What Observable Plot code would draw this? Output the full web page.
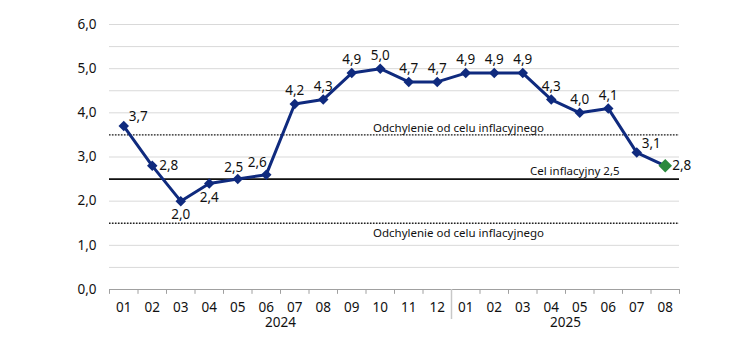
<!DOCTYPE html>
<html><head><meta charset="utf-8">
<script src="https://cdn.jsdelivr.net/npm/d3@7"></script>
<script src="https://cdn.jsdelivr.net/npm/@observablehq/plot@0.6"></script>
<style>body{margin:0;background:#fff;}</style>
</head><body><div id="chart"></div>
<script>
const months = ["01","02","03","04","05","06","07","08","09","10","11","12","01","02","03","04","05","06","07","08"];
const years = ["2024","2025"];
const yearMonthCounts = [12, 8];
const values = [3.7,2.8,2.0,2.4,2.5,2.6,4.2,4.3,4.9,5.0,4.7,4.7,4.9,4.9,4.9,4.3,4.0,4.1,3.1,2.8];
const target = 2.5;
const bandLow = 1.5, bandHigh = 3.5;
const targetLabel = "Cel inflacyjny 2,5";
const bandLabel = "Odchylenie od celu inflacyjnego";
const yTicks = [0,1,2,3,4,5,6];
const gridValues = [0.5,1,1.5,2,2.5,3,3.5,4,4.5,5,5.5,6];

const NAVY = "#0f2a7e", GREEN = "#2b8a3e", FONT = "'Noto Sans', sans-serif", INK = "#111";
const fmt = d => d.toFixed(1).replace(".", ",");
const n = values.length;
const idx = values.map((d,i)=>i);
const boundaries = d3.range(n+1).map(i => i - 0.5);
// label placement per point
const place = ["ur","r","b","b","ul","ul2","a","a","a","a","a","a","a","a","a","a","a","a","ur","r"];
const off = {a:{dx:0,dy:-13,ta:"middle"}, ur:{dx:5,dy:-9,ta:"start"}, r:{dx:7,dy:0,ta:"start"},
             b:{dx:0,dy:14,ta:"middle"}, ul:{dx:-4,dy:-11,ta:"middle"}, ul2:{dx:-9,dy:-12,ta:"middle"}};
let start = 0;
const yearCenters = yearMonthCounts.map(c => { const m = start + (c-1)/2; start += c; return m; });
const separators = yearMonthCounts.slice(0,-1).map((c,k)=> d3.sum(yearMonthCounts.slice(0,k+1)) - 0.5);

const labelMarks = Object.keys(off).map(k => Plot.text(idx.filter(i => place[i]===k), {
  x: i => i, y: i => values[i], text: i => fmt(values[i]),
  dx: off[k].dx, dy: off[k].dy, textAnchor: off[k].ta, fontSize: 13.5, fill: INK
}));

const chart = Plot.plot({
  width: 750, height: 346,
  marginLeft: 109, marginRight: 71, marginTop: 24, marginBottom: 57,
  style: {fontFamily: FONT, fontSize: "13px", color: INK, background: "#fff"},
  x: {domain: [-0.5, n - 0.5], axis: null},
  y: {domain: [0, 6]},
  marks: [
    Plot.ruleY(gridValues, {stroke: "#d9d9d9", strokeWidth: 1}),
    Plot.axisY({ticks: yTicks, tickFormat: fmt, tickSize: 0, tickPadding: 13, fontSize: 13.5, fill: INK, label: null}),
    Plot.ruleY([0], {stroke: "#a0a0a0", strokeWidth: 1}),
    Plot.ruleX(boundaries, {y1: 0, y2: -0.11, stroke: "#a0a0a0"}),
    Plot.ruleX(separators, {y1: 0, y2: -0.68, stroke: "#c8c8c8", strokeWidth: 1.5}),
    Plot.text(months, {x: (d,i)=>i, y: 0, dy: 18, text: d=>d, fontSize: 13.5, fill: INK}),
    Plot.text(years, {x: (d,i)=>yearCenters[i], y: 0, dy: 33, text: d=>d, fontSize: 13.5, fill: INK}),
    Plot.ruleY([bandHigh, bandLow], {stroke: "#222", strokeWidth: 1.3, strokeDasharray: "1.5,1.5"}),
    Plot.ruleY([target], {stroke: "#111", strokeWidth: 1.8}),
    Plot.text([bandLabel], {x: separators[0], y: bandHigh, dx: 7, dy: -7, text: d=>d, fontSize: 11.5, fill: INK}),
    Plot.text([bandLabel], {x: separators[0], y: bandLow, dx: 7, dy: 10, text: d=>d, fontSize: 11.5, fill: INK}),
    Plot.text([targetLabel], {x: 16, y: target, dx: -5, dy: -7.5, text: d=>d, fontSize: 11.5, fill: INK}),
    Plot.line(values, {x: (d,i)=>i, y: d=>d, stroke: NAVY, strokeWidth: 3}),
    Plot.dot(idx.slice(0,-1), {x: i=>i, y: i=>values[i], symbol: "square", rotate: 45, r: 4.2, fill: NAVY}),
    Plot.dot(idx.slice(-1), {x: i=>i, y: i=>values[i], symbol: "square", rotate: 45, r: 5.4, fill: GREEN}),
    ...labelMarks
  ]
});
document.getElementById("chart").appendChild(chart);
</script>
</body></html>
